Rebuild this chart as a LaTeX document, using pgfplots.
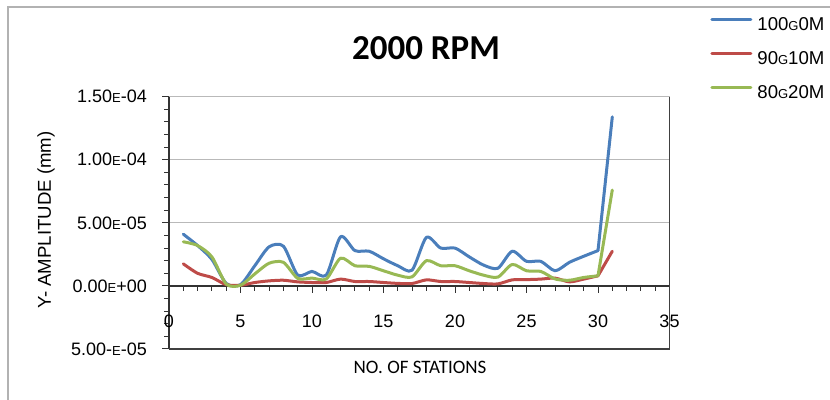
\documentclass[border=0pt]{standalone}
\usepackage{fontspec}
\setmainfont{Liberation Sans}
\newfontfamily\calibri{Carlito}
\usepackage{pgfplots}
\usepackage{pgfplotstable}
\pgfplotsset{compat=1.18}
\definecolor{sblue}{HTML}{4A7EBB}
\definecolor{sred}{HTML}{BE4B48}
\definecolor{sgreen}{HTML}{98B954}
\newcommand\sm[1]{{\fontsize{6.5}{7}\selectfont #1}}

% Y amplitude (mm) per station
\pgfplotstableread{
st  gA       gB       gC
1   4.10e-5  1.75e-5  3.50e-5
2   3.20e-5  1.00e-5  3.20e-5
3   2.10e-5  0.67e-5  2.30e-5
4   0.20e-5  0.10e-5  0.15e-5
5   0.10e-5  0.05e-5  0.05e-5
6   1.60e-5  0.27e-5  0.95e-5
7   3.10e-5  0.40e-5  1.80e-5
8   3.15e-5  0.45e-5  1.87e-5
9   0.86e-5  0.32e-5  0.60e-5
10  1.15e-5  0.27e-5  0.62e-5
11  0.86e-5  0.27e-5  0.55e-5
12  3.90e-5  0.54e-5  2.20e-5
13  2.80e-5  0.35e-5  1.60e-5
14  2.75e-5  0.35e-5  1.55e-5
15  2.15e-5  0.27e-5  1.20e-5
16  1.60e-5  0.20e-5  0.85e-5
17  1.25e-5  0.19e-5  0.72e-5
18  3.85e-5  0.48e-5  2.00e-5
19  3.00e-5  0.35e-5  1.60e-5
20  3.00e-5  0.35e-5  1.60e-5
21  2.30e-5  0.27e-5  1.20e-5
22  1.65e-5  0.19e-5  0.85e-5
23  1.40e-5  0.16e-5  0.70e-5
24  2.75e-5  0.48e-5  1.70e-5
25  1.95e-5  0.50e-5  1.20e-5
26  1.95e-5  0.54e-5  1.15e-5
27  1.20e-5  0.62e-5  0.55e-5
28  1.87e-5  0.32e-5  0.45e-5
29  2.35e-5  0.54e-5  0.67e-5
30  2.80e-5  0.80e-5  0.80e-5
31  13.4e-5  2.75e-5  7.60e-5
}\amp

\begin{document}
\begin{tikzpicture}[x=1pt,y=1pt]
\useasboundingbox (0,0) rectangle (415,200);
\draw[gray!60, line width=0.7pt] (4,0) -- (4,196.5) -- (415,196.5);
\begin{axis}[
  at={(84.5pt,25.5pt)}, anchor=south west,
  scale only axis, width=250.25pt, height=126.15pt,
  xmin=0, xmax=35, ymin=-5e-5, ymax=1.5e-4,
  axis x line=middle, axis y line=left,
  axis line style={-, black!80, line width=0.6pt},
  xtick={0,5,...,35}, minor x tick num=4,
  hide obscured x ticks=false,
  ytick={-5e-5,0,5e-5,1e-4,1.5e-4}, minor y tick num=4,
  yticklabels={5.00-\sm{E}-05, 0.00\sm{E}+00, 5.00\sm{E}-05, 1.00\sm{E}-04, 1.50\sm{E}-04},
  scaled y ticks=false,
  tick align=outside, major tick length=3.5pt, minor tick length=2.5pt,
  tick style={black!80, line width=0.5pt},
  ymajorgrids, major grid style={gray!55, line width=0.6pt},
  tick label style={font=\fontsize{9}{10}\selectfont},
  /pgf/number format/assume math mode=true,
  xticklabel style={yshift=-7.5pt},
  yticklabel style={xshift=-4pt},
  clip=false,
  legend style={draw=none, fill=none, at={(axis description cs:1.069,1.149)},
    anchor=west, font=\fontsize{9.3}{11}\selectfont, row sep=9pt, column sep=2.5pt,
    nodes={inner sep=0pt}},
  legend cell align=left,
  legend image code/.code={\draw[#1] (0pt,3pt) -- (19.5pt,3pt);},
  every axis plot/.append style={line width=1.5pt, line cap=round, line join=round},
]
% smoothed part of each curve, stations 1-30
\addplot[sblue, smooth, tension=0.45, restrict x to domain=1:30] table[x=st, y=gA] {\amp};
\addplot[sred, smooth, tension=0.45, restrict x to domain=1:30] table[x=st, y=gB] {\amp};
\addplot[sgreen, smooth, tension=0.45, restrict x to domain=1:30] table[x=st, y=gC] {\amp};
\legend{100\sm{G}0M, 90\sm{G}10M, 80\sm{G}20M}
% the steep rise at the last station
\addplot[sblue, forget plot, restrict x to domain=30:31] table[x=st, y=gA] {\amp};
\addplot[sred, forget plot, restrict x to domain=30:31] table[x=st, y=gB] {\amp};
\addplot[sgreen, forget plot, restrict x to domain=30:31] table[x=st, y=gC] {\amp};
\draw[black!75, line width=0.6pt] (rel axis cs:0,0) -- (rel axis cs:1,0) -- (rel axis cs:1,1);
\end{axis}
\node[font=\calibri\bfseries\fontsize{17.5}{20}\selectfont] at (213,176) {2000 RPM};
\node[rotate=90, font=\fontsize{9.3}{11}\selectfont] at (23,90) {Y- AMPLITUDE (mm)};
\node[font=\calibri\fontsize{9.5}{11}\selectfont] at (210,16.5) {NO. OF STATIONS};
\end{tikzpicture}
\end{document}
